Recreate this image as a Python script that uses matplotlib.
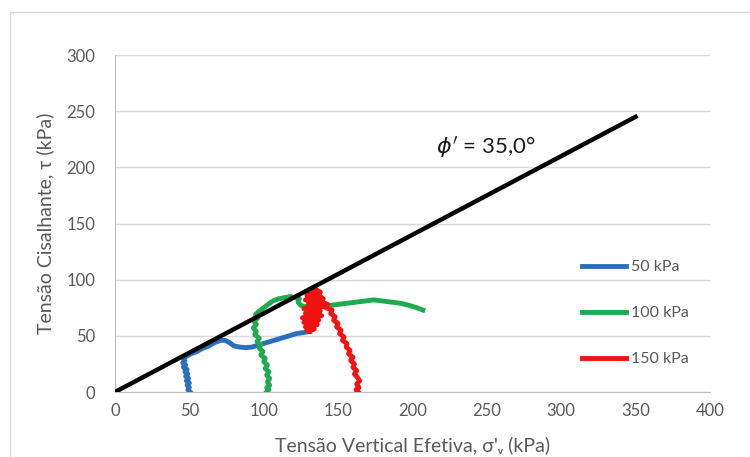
import matplotlib.pyplot as plt
from matplotlib.lines import Line2D

plt.rcParams['font.family'] = ['Lato', 'DejaVu Sans']

# envelope: tau = tan(35) * sigma
envelope_sigma = [0, 350]
envelope_tau = [0, 245]
phi_text = "35,0°"

labels = ['50 kPa', '100 kPa', '150 kPa']
colors = ['#2a6fbf', '#1faa50', '#f21212']

# stress paths (sigma'v, tau) in kPa
sigma_50 = [50.5, 49, 50, 48.5, 50, 48, 49.5, 47.5, 49, 47, 48.5, 46, 47.5, 45.5, 47, 46, 47,
            51, 55, 59, 63, 67, 71, 74, 77, 80, 84, 88, 92, 97, 102, 107, 112, 117, 122, 127, 131]
tau_50 = [0, 2, 4, 6, 8, 10, 12, 14, 16, 18, 20, 22, 24, 26, 28, 30, 31,
          34, 36, 39, 41, 44, 46, 46, 44, 41, 40, 39.5, 40, 42, 44, 46, 48, 50, 52, 53, 54]

sigma_100 = [102, 103.5, 102, 104, 102.5, 104, 102, 103.5, 101, 102.5, 100, 101, 98, 99.5, 97, 98,
             95.5, 97, 94, 95, 93, 95, 93.5, 96, 94.5, 97, 100, 103, 106, 110, 114, 118, 121, 124,
             123, 125, 128, 132, 138, 144, 150, 156, 162, 168, 174, 180, 186, 192, 198, 203, 207]
tau_100 = [0, 2, 4, 6, 9, 12, 15, 18, 21, 24, 27, 30, 33, 36, 39, 42,
           45, 48, 51, 54, 57, 60, 63, 66, 69, 72, 75, 78, 81, 83, 84, 85, 84, 83,
           80, 77, 76, 76, 76, 77, 78, 79, 80, 81, 82, 81, 80, 79, 77, 75, 73]

sigma_150 = [163.5, 162, 164, 162.5, 164.5, 163, 161, 162.5, 160, 161, 158.5, 160, 157, 158, 155.5,
             156, 153, 154, 151, 152, 149, 150, 147, 148, 145, 146, 142, 143, 139, 140, 137, 138,
             135, 133, 131, 136, 129, 138, 128, 139, 130, 140, 127, 138, 128, 139, 126, 137, 127,
             136, 128, 134, 129, 131]
tau_150 = [0, 2, 4, 7, 10, 13, 16, 19, 22, 25, 28, 31, 34, 37, 40,
           43, 46, 49, 52, 55, 58, 61, 64, 67, 70, 73, 75, 78, 80, 83, 86, 89,
           91, 92, 90, 88, 86, 84, 82, 80, 78, 76, 74, 72, 70, 68, 66, 64, 62,
           60, 58, 56, 55, 54]

x_ticks = [0, 50, 100, 150, 200, 250, 300, 350, 400]
y_ticks = [0, 50, 100, 150, 200, 250, 300]

fig = plt.figure(figsize=(7.5, 4.57), dpi=100)
ax = fig.add_axes([0.1533, 0.1422, 0.7933, 0.7374])

paths = [(sigma_50, tau_50), (sigma_100, tau_100), (sigma_150, tau_150)]
for (s, t), c, lab in zip(paths, colors, labels):
    ax.plot(s, t, color=c, lw=3.5, solid_joinstyle='round', label=lab, zorder=3)

ax.plot(envelope_sigma, envelope_tau, color='black', lw=3.2, zorder=4)
ax.text(216, 218, r"$\phi'$ = " + phi_text, fontsize=16, color='#1a1a1a', va='center')

ax.set_xlim(0, 400)
ax.set_ylim(0, 300)
ax.set_xticks(x_ticks)
ax.set_yticks(y_ticks)
ax.grid(axis='y', color='#d9d9d9', lw=1)
ax.set_axisbelow(True)
ax.tick_params(length=0, labelsize=12, labelcolor='#595959')
ax.tick_params(axis='y', pad=14)
ax.tick_params(axis='x', pad=8)
for side in ['top', 'right']:
    ax.spines[side].set_visible(False)
for side in ['left', 'bottom']:
    ax.spines[side].set_color('#bfbfbf')

ax.set_xlabel("Tensão Vertical Efetiva, σ'ᵥ (kPa)", fontsize=14, color='#595959', labelpad=12)
ax.set_ylabel("Tensão Cisalhante, τ (kPa)", fontsize=14, color='#595959', labelpad=9)

leg = ax.legend(loc='center left', bbox_to_anchor=(0.76, 0.234), frameon=False,
                fontsize=11.5, handlelength=2.8, handletextpad=0.3, labelspacing=2.0)
for txt in leg.get_texts():
    txt.set_color('#595959')

# chart area outline
fig.add_artist(Line2D([10 / 750, 10 / 750], [0, 1 - 12 / 457], color='#d6d6d6', lw=1))
fig.add_artist(Line2D([10 / 750, 1], [1 - 12 / 457, 1 - 12 / 457], color='#d6d6d6', lw=1))

fig.savefig('out.png', dpi=100)
